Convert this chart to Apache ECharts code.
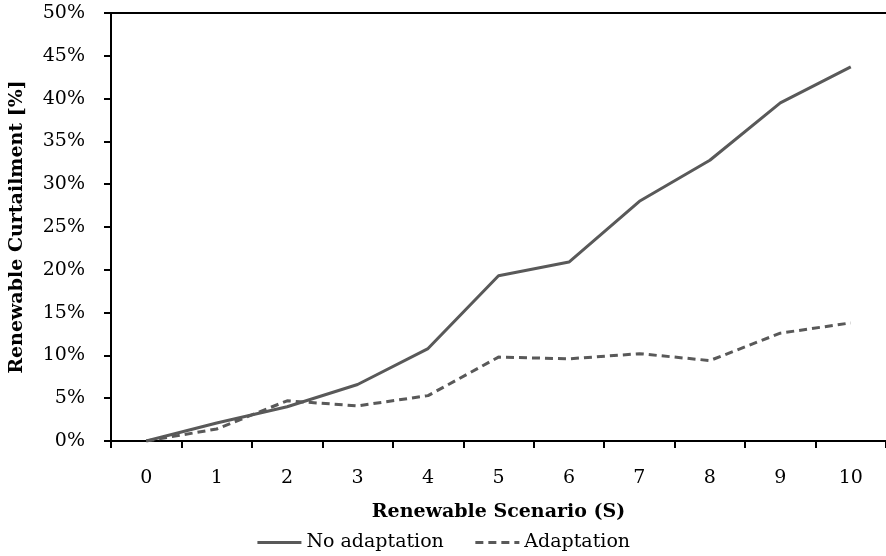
<!DOCTYPE html>
<html>
<head>
<meta charset="utf-8">
<script src="https://cdn.jsdelivr.net/npm/echarts@6/dist/echarts.min.js"></script>
<style>
  html, body {margin: 0; padding: 0; background: #fff;}
  #main {width: 886px; height: 556px;}
</style>
</head>
<body>
<div id="main"></div>
<script>
//横轴情景
var scenarios = ['0', '1', '2', '3', '4', '5', '6', '7', '8', '9', '10'];
//弃电率 (%)
var noAdaptation = [0, 2.1, 4.0, 6.6, 10.8, 19.3, 20.9, 28.0, 32.8, 39.5, 43.7];
var adaptation = [0, 1.4, 4.7, 4.1, 5.3, 9.8, 9.6, 10.2, 9.4, 12.6, 13.8];

var fontName = 'DejaVu Serif';
var chart = echarts.init(document.getElementById('main'));

var option = {
    animation: false,
    backgroundColor: '#fff',
    textStyle: {fontFamily: fontName, color: '#000'},
    grid: {
        left: 111,
        right: -7,
        top: 13,
        bottom: 115
    },
    legend: {
        bottom: -1,
        left: 'center',
        itemWidth: 44,
        itemHeight: 10,
        itemGap: 30,
        itemStyle: {opacity: 0},
        lineStyle: {width: 3},
        textStyle: {fontFamily: fontName, fontSize: 19, color: '#000'},
        data: ['No adaptation', 'Adaptation']
    },
    xAxis: [
        {
            type: 'category',
            data: scenarios,
            name: 'Renewable Scenario (S)',
            nameLocation: 'middle',
            nameGap: 62,
            nameTextStyle: {fontFamily: fontName, fontSize: 19, fontWeight: 'bold', color: '#000'},
            axisLine: {lineStyle: {color: '#000', width: 2}},
            axisTick: {show: true, length: 7, lineStyle: {color: '#000', width: 2}},
            axisLabel: {margin: 28, fontFamily: fontName, fontSize: 19, color: '#000'},
            splitLine: {show: false}
        },
        {
            type: 'category',
            data: scenarios,
            position: 'top',
            axisLine: {lineStyle: {color: '#000', width: 2}},
            axisTick: {show: false},
            axisLabel: {show: false}
        }
    ],
    yAxis: {
        type: 'value',
        min: 0,
        max: 50,
        interval: 5,
        name: 'Renewable Curtailment [%]',
        nameLocation: 'middle',
        nameGap: 84,
        nameTextStyle: {fontFamily: fontName, fontSize: 19, fontWeight: 'bold', color: '#000'},
        axisLine: {show: true, lineStyle: {color: '#000', width: 2}},
        axisTick: {show: true, length: 7, lineStyle: {color: '#000', width: 2}},
        axisLabel: {
            margin: 26,
            fontFamily: fontName,
            fontSize: 19,
            color: '#000',
            formatter: '{value}%'
        },
        splitLine: {show: false}
    },
    series: [
        {
            name: 'No adaptation',
            type: 'line',
            symbol: 'none',
            data: noAdaptation,
            lineStyle: {color: '#595959', width: 3},
            itemStyle: {color: '#595959'}
        },
        {
            name: 'Adaptation',
            type: 'line',
            symbol: 'none',
            data: adaptation,
            lineStyle: {color: '#595959', width: 3, type: [8, 5]},
            itemStyle: {color: '#595959'}
        }
    ]
};

chart.setOption(option);
</script>
</body>
</html>
